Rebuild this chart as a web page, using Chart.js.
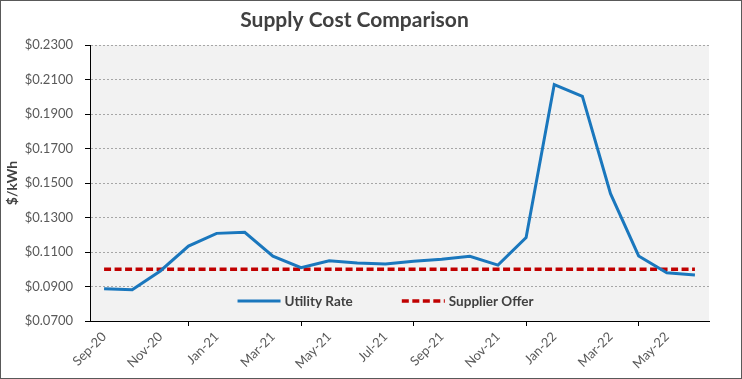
<!DOCTYPE html>
<html>
<head>
<meta charset="utf-8">
<script src="https://cdn.jsdelivr.net/npm/chart.js@4/dist/chart.umd.min.js"></script>
<style>
html,body{margin:0;padding:0;background:#fff;}
#wrap{position:relative;width:742px;height:379px;}
</style>
</head>
<body>
<div id="wrap"><canvas id="c" width="742" height="379"></canvas></div>
<script>
const months = ['Sep-20','Oct-20','Nov-20','Dec-20','Jan-21','Feb-21','Mar-21','Apr-21','May-21','Jun-21','Jul-21','Aug-21',
                'Sep-21','Oct-21','Nov-21','Dec-21','Jan-22','Feb-22','Mar-22','Apr-22','May-22','Jun-22'];
const utilityRate = [0.0887,0.0881,0.0990,0.1134,0.1208,0.1214,0.1076,0.1009,0.1049,0.1036,0.1031,0.1047,
                     0.1058,0.1075,0.1024,0.1184,0.2071,0.2002,0.1438,0.1077,0.0980,0.0967];
const supplierOffer = [0.1000,0.1000,0.1000,0.1000,0.1000,0.1000,0.1000,0.1000,0.1000,0.1000,0.1000,0.1000,
                       0.1000,0.1000,0.1000,0.1000,0.1000,0.1000,0.1000,0.1000,0.1000,0.1000];
const yMin = 0.07, yMax = 0.23, yStep = 0.02;
const chartTitle = 'Supply Cost Comparison';
const yTitle = '$/kWh';
const seriesNames = ['Utility Rate','Supplier Offer'];

const FONT = 'Lato, "Open Sans", sans-serif';

const bgPlugin = {
  id: 'bg',
  beforeDraw(chart) {
    const {ctx, chartArea: a} = chart;
    ctx.save();
    ctx.fillStyle = '#ffffff';
    ctx.fillRect(0, 0, chart.width, chart.height);
    ctx.fillStyle = '#f2f2f2';
    ctx.fillRect(a.left, a.top, a.right - a.left, a.bottom - a.top);
    ctx.strokeStyle = '#595959';
    ctx.lineWidth = 1;
    ctx.strokeRect(0.5, 0.5, chart.width - 1, chart.height - 1);
    ctx.restore();
  }
};

const legendPlugin = {
  id: 'inLegend',
  afterDatasetsDraw(chart) {
    const {ctx, chartArea: a} = chart;
    ctx.save();
    ctx.font = 'bold 13.5px ' + FONT;
    ctx.textBaseline = 'middle';
    const y = a.bottom - 20;
    const lineLen = 43, gapText = 4, gapItem = 49;
    const items = chart.data.datasets.map(ds => ({ds, w: ctx.measureText(ds.label).width}));
    let total = 0;
    items.forEach((it, i) => { total += lineLen + gapText + it.w + (i ? gapItem : 0); });
    let x = (a.left + a.right) / 2 - 14 - total / 2;
    items.forEach((it, i) => {
      const ds = it.ds;
      ctx.beginPath();
      ctx.strokeStyle = ds.borderColor;
      ctx.lineWidth = ds.borderWidth;
      ctx.setLineDash(ds.borderDash || []);
      ctx.moveTo(x, y); ctx.lineTo(x + lineLen, y);
      ctx.stroke();
      ctx.setLineDash([]);
      ctx.fillStyle = '#404040';
      ctx.fillText(ds.label, x + lineLen + gapText, y + 1);
      x += lineLen + gapText + it.w + gapItem;
    });
    ctx.restore();
  }
};

new Chart(document.getElementById('c'), {
  type: 'line',
  data: {
    labels: months,
    datasets: [
      {label: seriesNames[0], data: utilityRate, borderColor: '#1A77BD', backgroundColor: '#1A77BD',
       borderWidth: 3, pointRadius: 0, tension: 0, fill: false},
      {label: seriesNames[1], data: supplierOffer, borderColor: '#C00000', backgroundColor: '#C00000',
       borderWidth: 3.5, borderDash: [7, 3.5], pointRadius: 0, tension: 0, fill: false}
    ]
  },
  options: {
    responsive: false,
    animation: false,
    devicePixelRatio: 1,
    layout: {padding: {left: 0, right: 33, top: 0, bottom: 0}},
    plugins: {
      legend: {display: false},
      tooltip: {enabled: false},
      title: {display: true, text: chartTitle, color: '#404040',
              font: {family: FONT, size: 21, weight: 'bold', lineHeight: 1.2},
              padding: {top: 8, bottom: 11.8}}
    },
    scales: {
      x: {
        offset: true,
        afterFit(s) { s.height = 58; },
        grid: {offset: true, drawOnChartArea: false, drawTicks: true, tickLength: 5, tickColor: '#000000', tickWidth: 1},
        border: {display: true, color: '#000000', width: 1},
        ticks: {autoSkip: true, maxTicksLimit: 11, maxRotation: 45, minRotation: 45, padding: 3,
                color: '#595959', font: {family: FONT, size: 13}}
      },
      y: {
        min: yMin, max: yMax,
        afterFit(s) { s.width = 90; },
        grid: {color: '#a6a6a6', lineWidth: 1, drawTicks: true, tickLength: 5, tickColor: '#000000', tickWidth: 1, tickBorderDash: []},
        border: {display: true, color: '#000000', width: 1, dash: [2, 2]},
        title: {display: true, text: yTitle, color: '#404040', font: {family: FONT, size: 14, weight: 'bold'}, padding: {top: 4, bottom: 0}},
        ticks: {stepSize: yStep, padding: 12, color: '#595959', font: {family: FONT, size: 13},
                callback: v => '$' + Number(v).toFixed(4)}
      }
    }
  },
  plugins: [bgPlugin, legendPlugin]
});
</script>
</body>
</html>
